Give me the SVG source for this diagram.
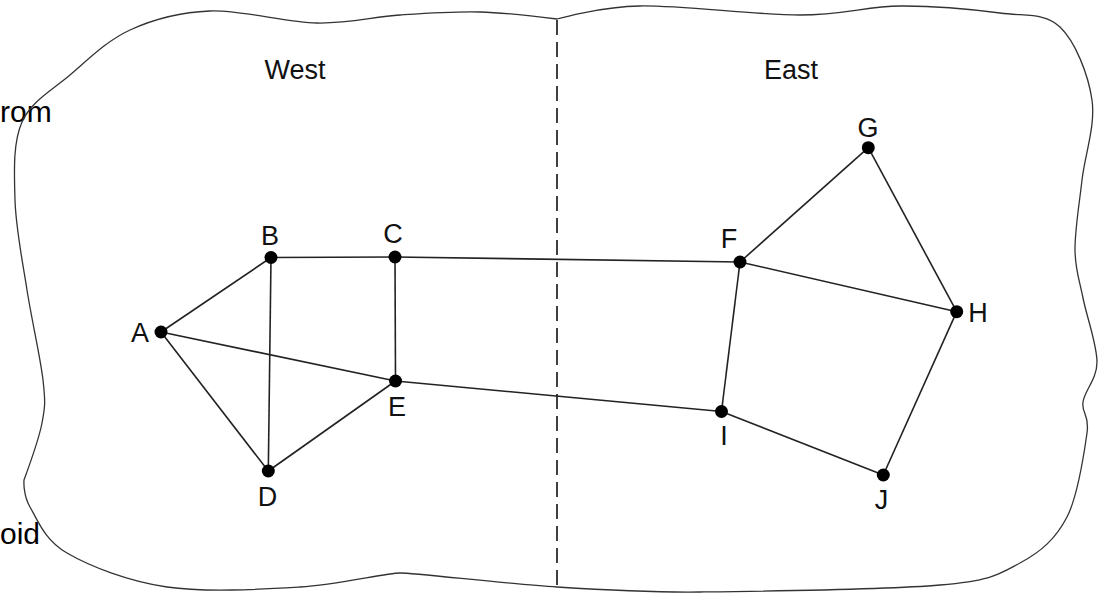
<svg xmlns="http://www.w3.org/2000/svg" width="1103" height="593" viewBox="0 0 1103 593">
<style>
.lbl{font-family:"Liberation Sans",Arial,sans-serif;font-size:27px;fill:#111;text-anchor:middle}
.big{font-family:"Liberation Sans",Arial,sans-serif;font-size:30px;fill:#000}
.edge{stroke:#222;stroke-width:1.6;fill:none}
.dot{fill:#000}
</style>
<rect width="1103" height="593" fill="#fff"/>
<text class="big" x="0" y="122">rom</text>
<text class="big" x="0" y="544">oid</text>
<path id="boundary" fill="none" stroke="#333" stroke-width="1.3" d="M15,200 C14.2,172 12.8,142.8 22,122 C31.2,101.2 52,90.3 70,75 C88,59.7 106.7,40.7 130,30 C153.3,19.3 178.8,12.2 210,11 C241.2,9.8 285.3,22.3 317,23 C348.7,23.7 372.8,16.8 400,15 C427.2,13.2 453.8,11.3 480,12 C506.2,12.7 557,19 557,19 C557,19 599.5,6.7 640,6 C680.5,5.3 756.7,15 800,15 C843.3,15 866.7,6.3 900,6 C933.3,5.7 973.3,9.5 1000,13 C1026.7,16.5 1044.7,12.5 1060,27 C1075.3,41.5 1088.3,74.5 1092,100 C1095.7,125.5 1084.8,155 1082,180 C1079.2,205 1074.8,230.3 1075,250 C1075.2,269.7 1079.3,279.3 1083,298 C1086.7,316.7 1097,344.7 1097,362 C1097,379.3 1084.7,390.2 1083,402 C1081.3,413.8 1089.7,413.8 1087,433 C1084.3,452.2 1078.2,495.3 1067,517 C1055.8,538.7 1041.2,551.7 1020,563 C998.8,574.3 993.3,580.2 940,585 C886.7,589.8 740,591.5 700,592 C660,592.5 607,590.2 557,587 C507,583.8 415,573 400,573 C385,573 338.8,584.7 300,587 C261.2,589.3 205.8,592.7 167,587 C128.2,581.3 89.8,566.3 67,553 C44.2,539.7 37.2,519.2 30,507 C22.8,494.8 24,480 24,480 C24,480 38.8,439.7 42,423 C45.2,406.3 45.5,402.2 43,380 C40.5,357.8 31.7,320 27,290 C22.3,260 15.8,228 15,200 Z"/>
<line id="divider" x1="557" y1="20" x2="557" y2="587" stroke="#111" stroke-width="1.6" stroke-dasharray="15 7"/>
<text class="lbl" x="295" y="79">West</text>
<text class="lbl" x="791" y="79">East</text>
<g id="connectors">
<line class="edge" x1="161" y1="332" x2="271" y2="257.5"/>
<line class="edge" x1="161" y1="332" x2="395.5" y2="381"/>
<line class="edge" x1="161" y1="332" x2="268.3" y2="471"/>
<line class="edge" x1="271" y1="257.5" x2="395" y2="257"/>
<line class="edge" x1="271" y1="257.5" x2="268.3" y2="471"/>
<line class="edge" x1="395" y1="257" x2="395.5" y2="381"/>
<line class="edge" x1="395" y1="257" x2="740" y2="262"/>
<line class="edge" x1="268.3" y1="471" x2="395.5" y2="381"/>
<line class="edge" x1="395.5" y1="381" x2="721.5" y2="411.5"/>
<line class="edge" x1="740" y1="262" x2="868.3" y2="147.7"/>
<line class="edge" x1="740" y1="262" x2="956.7" y2="311.7"/>
<line class="edge" x1="740" y1="262" x2="721.5" y2="411.5"/>
<line class="edge" x1="868.3" y1="147.7" x2="956.7" y2="311.7"/>
<line class="edge" x1="956.7" y1="311.7" x2="883.3" y2="475"/>
<line class="edge" x1="721.5" y1="411.5" x2="883.3" y2="475"/>
</g>
<g id="node-A"><circle class="dot" cx="161" cy="332" r="6.5"/><text class="lbl" x="140" y="342">A</text></g>
<g id="node-B"><circle class="dot" cx="271" cy="257.5" r="6.5"/><text class="lbl" x="270" y="245">B</text></g>
<g id="node-C"><circle class="dot" cx="395" cy="257" r="6.5"/><text class="lbl" x="393" y="243">C</text></g>
<g id="node-D"><circle class="dot" cx="268.3" cy="471" r="6.5"/><text class="lbl" x="267.5" y="506">D</text></g>
<g id="node-E"><circle class="dot" cx="395.5" cy="381" r="6.5"/><text class="lbl" x="397" y="416">E</text></g>
<g id="node-F"><circle class="dot" cx="740" cy="262" r="6.5"/><text class="lbl" x="729" y="248">F</text></g>
<g id="node-G"><circle class="dot" cx="868.3" cy="147.7" r="6.5"/><text class="lbl" x="868" y="137">G</text></g>
<g id="node-H"><circle class="dot" cx="956.7" cy="311.7" r="6.5"/><text class="lbl" x="978" y="322">H</text></g>
<g id="node-I"><circle class="dot" cx="721.5" cy="411.5" r="6.5"/><text class="lbl" x="724" y="445">I</text></g>
<g id="node-J"><circle class="dot" cx="883.3" cy="475" r="6.5"/><text class="lbl" x="881.5" y="509">J</text></g>
</svg>
